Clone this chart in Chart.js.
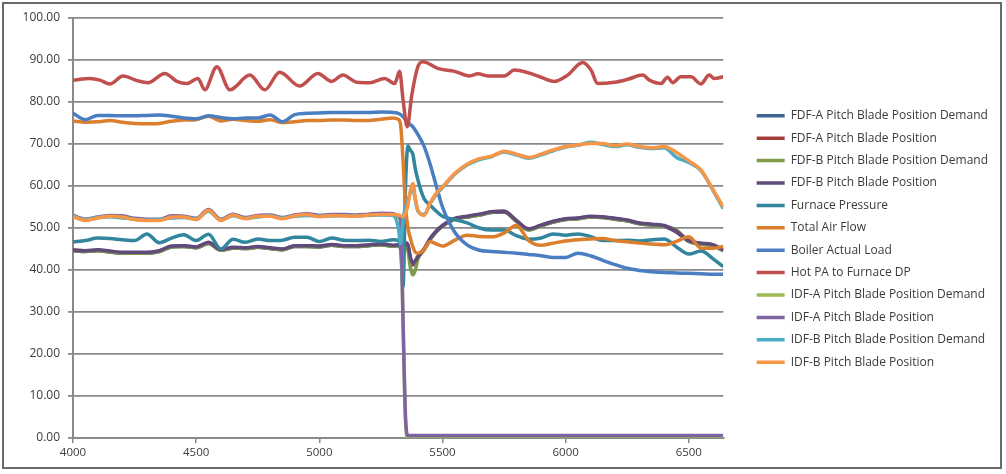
<!DOCTYPE html>
<html>
<head>
<meta charset="utf-8">
<script src="https://cdn.jsdelivr.net/npm/chart.js@4.4.1/dist/chart.umd.min.js"></script>
<style>
  body { margin: 0; background: #fff; }
  #wrap { position: relative; width: 1006px; height: 474px; }
  #frame { position: absolute; left: 2px; top: 2px; width: 996px; height: 463px; border: 2px solid #6a6a6a; pointer-events: none; }
</style>
</head>
<body>
<div id="wrap">
  <canvas id="nchart" width="1006" height="474"></canvas>
  <div id="frame"></div>
</div>
<script>
// shared time axis (samples)
const xGrid = [4000,4050,4100,4150,4200,4250,4300,4350,4400,4450,4500,4550,4600,4650,4700,4750,4800,4850,4900,4950,5000,5050,5100,5150,5200,5250,5300,
  5320,5330,5340,5350,5360,5370,5380,5390,5400,5425,5450,5475,
  5500,5550,5600,5650,5700,5750,5800,5850,5900,5950,6000,6050,6100,6150,6200,6250,6300,6350,6400,6450,6500,6550,6600,6640];

const fdfADemand = [44.6,44.4,44.6,44.3,44.0,44.0,44.0,44.4,45.5,45.6,45.3,46.3,44.7,45.2,45.1,45.4,45.1,44.8,45.6,45.6,45.5,45.9,45.6,45.6,45.8,46.0,45.7,
  45.8,45.3,44.8,46.0,45.5,42.5,41.2,41.8,43.0,44.8,47.3,49.1,
  50.4,52.1,52.6,53.1,53.7,53.8,51.6,49.6,50.5,51.4,52.0,52.2,52.6,52.5,52.1,51.7,51.0,50.7,50.4,49.0,46.8,46.2,45.8,44.6];
const fdfAPos = [44.7,44.5,44.7,44.4,44.1,44.1,44.1,44.5,45.6,45.7,45.4,46.4,44.8,45.3,45.2,45.5,45.2,44.9,45.7,45.7,45.6,46.0,45.7,45.7,45.9,46.1,45.8,
  45.9,45.4,44.9,46.2,45.7,42.7,41.4,42.0,43.1,44.9,47.4,49.2,
  50.5,52.2,52.7,53.2,53.8,53.9,51.7,49.7,50.6,51.5,52.1,52.3,52.7,52.6,52.2,51.8,51.1,50.8,50.5,49.1,46.9,46.3,45.9,44.7];
const fdfBDemand = [44.6,44.4,44.6,44.3,44.0,44.0,44.0,44.4,45.5,45.6,45.3,46.3,44.7,45.2,45.1,45.4,45.1,44.8,45.6,45.6,45.5,45.9,45.6,45.6,45.8,46.0,45.7,
  45.8,45.3,44.6,45.5,44.5,40.5,38.8,40.0,42.5,44.8,47.3,49.1,
  50.4,52.1,52.6,53.1,53.8,54.0,51.6,49.5,50.5,51.4,52.0,52.2,52.6,52.5,52.1,51.7,51.0,50.7,50.4,49.5,46.8,46.2,45.8,44.6];
const fdfBPos = [44.8,44.6,44.8,44.5,44.2,44.2,44.2,44.6,45.7,45.8,45.5,46.6,44.9,45.4,45.3,45.6,45.3,45.0,45.8,45.8,45.7,46.1,45.8,45.8,46.0,46.2,45.9,
  46.0,45.5,45.0,46.5,46.0,43.0,41.6,42.2,43.2,45.0,47.5,49.3,
  50.6,52.3,52.8,53.3,53.9,54.0,51.8,49.8,50.7,51.6,52.2,52.4,52.8,52.7,52.3,51.9,51.2,50.9,50.6,49.2,47.0,46.4,46.0,44.8];
const furnacePressure = [46.7,47.0,47.6,47.5,47.2,47.0,48.6,46.5,47.6,48.4,47.0,48.5,45.0,47.3,46.6,47.4,47.0,47.1,47.8,47.8,46.8,47.6,47.1,47.0,47.1,46.8,47.2,
  47.1,45.0,36.0,60.0,69.5,68.5,67.5,64.0,61.5,57.0,55.4,54.0,
  52.8,52.0,51.2,50.0,49.5,49.5,48.2,47.3,47.6,48.6,48.3,48.6,48.0,47.0,47.0,47.1,46.9,47.2,47.4,45.5,43.8,44.5,42.6,40.8];
const totalAirFlow = [75.5,75.2,75.3,75.6,75.2,74.9,74.8,74.9,75.4,75.7,75.8,76.6,75.5,75.9,75.6,75.4,75.8,75.1,75.3,75.6,75.6,75.7,75.7,75.6,75.6,75.9,76.2,
  75.9,74.5,66.0,55.0,50.0,47.5,45.5,44.2,44.0,44.8,46.8,46.2,
  45.7,47.1,48.3,48.0,47.9,48.8,50.6,47.0,45.9,46.4,46.9,47.2,47.4,47.5,47.0,46.7,46.4,46.2,46.0,46.8,47.9,45.2,45.2,45.6];
const boilerLoad = [77.3,75.8,76.8,76.8,76.7,76.7,76.8,76.9,76.6,76.2,76.0,76.7,76.3,76.0,76.2,76.2,76.9,75.3,77.0,77.3,77.4,77.5,77.5,77.5,77.5,77.6,77.5,
  77.3,77.0,76.5,75.8,75.2,74.6,74.1,73.2,72.3,69.5,65.2,60.0,
  55.0,49.0,46.0,44.7,44.4,44.2,44.0,43.7,43.4,43.0,43.0,44.0,43.4,42.3,41.3,40.4,39.9,39.6,39.4,39.3,39.2,39.1,39.0,39.0];
const idfADemand = [52.8,51.9,52.4,52.8,52.7,52.1,51.9,51.9,52.7,52.6,52.1,54.2,51.9,53.1,52.3,52.8,52.9,52.3,52.9,53.2,52.8,53.0,53.0,52.9,53.1,53.3,53.2,
  52.6,51.5,27.0,4.0,0.1,0.1,0.1,0.1,0.1,0.1,0.1,0.1,
  0.1,0.1,0.1,0.1,0.1,0.1,0.1,0.1,0.1,0.1,0.1,0.1,0.1,0.1,0.1,0.1,0.1,0.1,0.1,0.1,0.1,0.1,0.1,0.1];
const idfAPos = [53.0,52.1,52.6,53.0,52.9,52.3,52.1,52.1,52.9,52.8,52.3,54.4,52.1,53.3,52.5,53.0,53.1,52.5,53.1,53.4,53.0,53.2,53.2,53.1,53.3,53.5,53.4,
  53.0,52.0,28.0,5.0,0.6,0.6,0.6,0.6,0.6,0.6,0.6,0.6,
  0.6,0.6,0.6,0.6,0.6,0.6,0.6,0.6,0.6,0.6,0.6,0.6,0.6,0.6,0.6,0.6,0.6,0.6,0.6,0.6,0.6,0.6,0.6,0.6];
const idfBDemand = [52.9,52.0,52.5,52.7,52.4,52.1,51.9,52.0,52.4,52.5,52.2,54.0,51.9,52.9,52.3,52.6,52.9,52.4,52.8,53.0,52.8,52.9,53.0,52.9,53.0,53.1,53.0,
  50.3,46.3,51.9,55.0,56.5,58.5,59.5,56.5,54.0,53.2,55.8,58.0,
  59.6,62.8,65.0,66.3,67.0,68.1,67.4,66.6,67.4,68.4,69.3,69.7,70.4,69.9,69.4,69.8,69.2,68.9,69.1,66.8,65.6,63.6,58.8,54.6];
const idfBPos = [52.7,51.8,52.4,52.8,52.6,52.0,51.8,51.8,52.6,52.6,52.0,54.2,51.8,53.1,52.2,52.8,52.8,52.2,52.9,53.2,52.7,53.0,52.9,52.8,53.1,53.2,53.2,
  53.1,52.9,52.7,53.5,55.5,59.0,60.6,57.0,54.3,53.0,56.0,58.3,
  59.8,63.0,65.2,66.5,67.1,68.3,67.6,66.8,67.6,68.6,69.4,69.8,70.1,70.1,69.6,70.0,69.4,69.1,69.4,68.0,66.0,63.8,59.0,55.0];

// Hot PA has its own sample points
const hotPaX = [4000,4069,4109,4150,4203,4260,4304,4373,4422,4462,4507,4535,4584,4637,4718,4779,4839,4920,4994,5050,
  5095,5152,5204,5265,5306,5326,5340,5357,5375,5400,5421,5481,5549,5610,5644,5684,5752,5792,5846,5900,
  5954,6008,6069,6103,6130,6198,6252,6313,6340,6387,6414,6434,6468,6509,6549,6583,6603,6640];
const hotPa = [85.2,85.6,85.2,84.3,86.2,85.1,84.6,86.8,84.9,84.4,85.6,82.9,88.4,82.9,86.4,82.9,87.1,83.8,86.8,84.9,
  86.4,84.7,84.6,85.6,84.4,87.3,80.5,74.1,81.5,88.4,89.6,88.0,87.3,86.2,86.7,86.2,86.2,87.6,87.0,85.9,
  84.9,86.4,89.4,87.6,84.4,84.7,85.4,86.4,85.2,84.4,85.9,84.6,86.0,86.0,84.3,86.4,85.6,86.0];

const seriesNames = ["FDF-A Pitch Blade Position Demand","FDF-A Pitch Blade Position","FDF-B Pitch Blade Position Demand",
  "FDF-B Pitch Blade Position","Furnace Pressure","Total Air Flow","Boiler Actual Load","Hot PA to Furnace DP",
  "IDF-A Pitch Blade Position Demand","IDF-A Pitch Blade Position","IDF-B Pitch Blade Position Demand","IDF-B Pitch Blade Position"];
const seriesColors = ["#3C6494","#A33D3A","#7F9A48","#604A7B","#31859C","#DB7F2E","#4A7EC0","#C0504D","#9BBB59","#8064A2","#4BACC6","#F79646"];

const yTicks = [0,10,20,30,40,50,60,70,80,90,100];
const xTicks = [4000,4500,5000,5500,6000,6500];

function pts(xs, ys) {
    let out = [];
    for (let i = 0; i < ys.length; i++) {
        out.push({x: xs[i], y: ys[i]});
    }
    return out;
}

const seriesData = [
    pts(xGrid, fdfADemand), pts(xGrid, fdfAPos), pts(xGrid, fdfBDemand), pts(xGrid, fdfBPos),
    pts(xGrid, furnacePressure), pts(xGrid, totalAirFlow), pts(xGrid, boilerLoad), pts(hotPaX, hotPa),
    pts(xGrid, idfADemand), pts(xGrid, idfAPos), pts(xGrid, idfBDemand), pts(xGrid, idfBPos)
];

const FONT = "'Open Sans', sans-serif";
const GRID = "#8a8a8a";

var ctx = document.getElementById("nchart");
var chartGraph = new Chart(ctx, {
    type: "line",
    data: {
        datasets: seriesData.map((d, i) => ({
            label: seriesNames[i],
            data: d,
            borderColor: seriesColors[i],
            backgroundColor: seriesColors[i],
            borderWidth: 3.5,
            pointRadius: 0,
            cubicInterpolationMode: "monotone",
            order: seriesNames.length - i   // later series on top, as in Excel
        }))
    },
    options: {
        responsive: false,
        animation: false,
        devicePixelRatio: 1,
        layout: { padding: { top: 18, bottom: 14, left: 0, right: 8 } },
        plugins: {
            tooltip: { enabled: false },
            legend: {
                position: "right",
                maxWidth: 320,
                labels: {
                    usePointStyle: true,
                    pointStyle: "line",
                    pointStyleWidth: 28,
                    padding: 10.4,
                    color: "#3b3b3b",
                    font: { family: FONT, size: 12 },
                    sort: (a, b) => a.datasetIndex - b.datasetIndex
                }
            }
        },
        scales: {
            x: {
                type: "linear",
                min: 4000,
                max: 6640,
                afterFit: (s) => { s.height = 22; },
                afterBuildTicks: (s) => { s.ticks = xTicks.map(v => ({value: v})); },
                ticks: { color: "#3b3b3b", font: { family: FONT, size: 11.5 }, padding: 3, maxRotation: 0, callback: (v) => String(v) },
                grid: { drawOnChartArea: false, drawTicks: true, tickLength: 5, color: GRID, lineWidth: 1.5 },
                border: { color: GRID, width: 2 }
            },
            y: {
                min: 0,
                max: 100,
                afterFit: (s) => { s.width = 73; },
                afterBuildTicks: (s) => { s.ticks = yTicks.map(v => ({value: v})); },
                ticks: { color: "#3b3b3b", font: { family: FONT, size: 12 }, padding: 8, callback: (v) => Number(v).toFixed(2) },
                grid: { color: GRID, lineWidth: 1.8, tickLength: 5 },
                border: { color: GRID, width: 2 }
            },
            gap: {
                position: "right",
                display: true,
                afterFit: (s) => { s.width = 23; },
                ticks: { display: false },
                grid: { display: false },
                border: { display: false }
            }
        }
    }
});
</script>
</body>
</html>
